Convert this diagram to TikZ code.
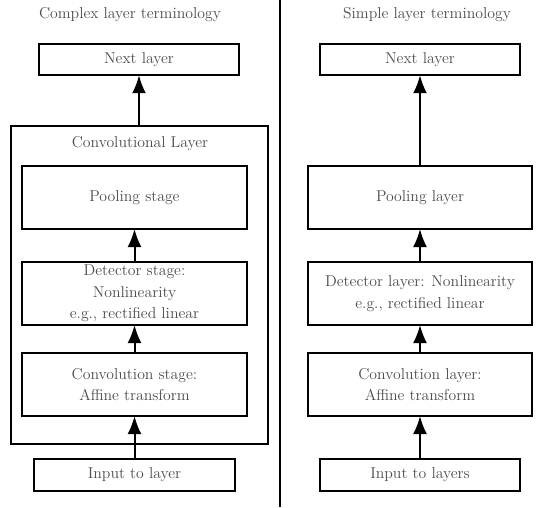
\documentclass[tikz,border=0pt]{standalone}
\usetikzlibrary{arrows.meta}
\definecolor{txtgray}{gray}{0.3}
\begin{document}
\begin{tikzpicture}[x=0.75pt,y=-0.75pt,
  txt/.style={text=txtgray,font=\fontsize{11.8}{16}\selectfont,align=center},
  box/.style={draw=black,line width=1.5pt,inner sep=0pt,outer sep=0pt,txt},
  widebox/.style={box,minimum width=168.75pt,minimum height=47.25pt},
  thinbox/.style={box,minimum width=150.4pt,minimum height=23.6pt},
  flow/.style={line width=1.5pt,-{Latex[length=13.5pt,width=10.5pt]}}]
\useasboundingbox (0,0) rectangle (546,507);
\fill[white] (0,0) rectangle (546,507);
% divider
\coordinate (dtop) at (280,0);
\coordinate (dbot) at (280,507);
\draw[line width=1.1pt] (dtop) -- (dbot);
% left side
\node[txt] (ltitle) at (130,15) {Complex layer terminology};
\node[thinbox] (lnext) at (139,59.5) {Next layer};
\node[box,minimum width=192.75pt,minimum height=238.5pt] (louter) at (139.5,285) {};
\node[txt] (lconvlabel) at (140,144) {Convolutional Layer};
\node[widebox] (lpool) at (134.5,197.5) {Pooling stage};
\node[widebox] (ldet) at (134.5,293.5) {Detector stage:\\Nonlinearity\\e.g., rectified linear};
\node[widebox] (lconv) at (134.5,384.5) {Convolution stage:\\Affine transform};
\node[thinbox,minimum height=24pt] (linput) at (134.5,475) {Input to layer};
\draw[flow] (louter.north -| lnext.south) -- (lnext.south);
\draw[flow] (ldet.north) -- (lpool.south);
\draw[flow] (lconv.north) -- (ldet.south);
\draw[flow] (linput.north) -- (lconv.south);
% right side
\node[txt] (rtitle) at (427,15) {Simple layer terminology};
\node[thinbox] (rnext) at (420,59.5) {Next layer};
\node[widebox,minimum width=168pt] (rpool) at (420,197.5) {Pooling layer};
\node[widebox,minimum width=168pt] (rdet) at (420,293.5) {Detector layer: Nonlinearity\\e.g., rectified linear};
\node[widebox,minimum width=168pt] (rconv) at (420,384.5) {Convolution layer:\\Affine transform};
\node[thinbox,minimum height=24pt] (rinput) at (420,475) {Input to layers};
\draw[flow] (rpool.north) -- (rnext.south);
\draw[flow] (rdet.north) -- (rpool.south);
\draw[flow] (rconv.north) -- (rdet.south);
\draw[flow] (rinput.north) -- (rconv.south);
\end{tikzpicture}
\end{document}
